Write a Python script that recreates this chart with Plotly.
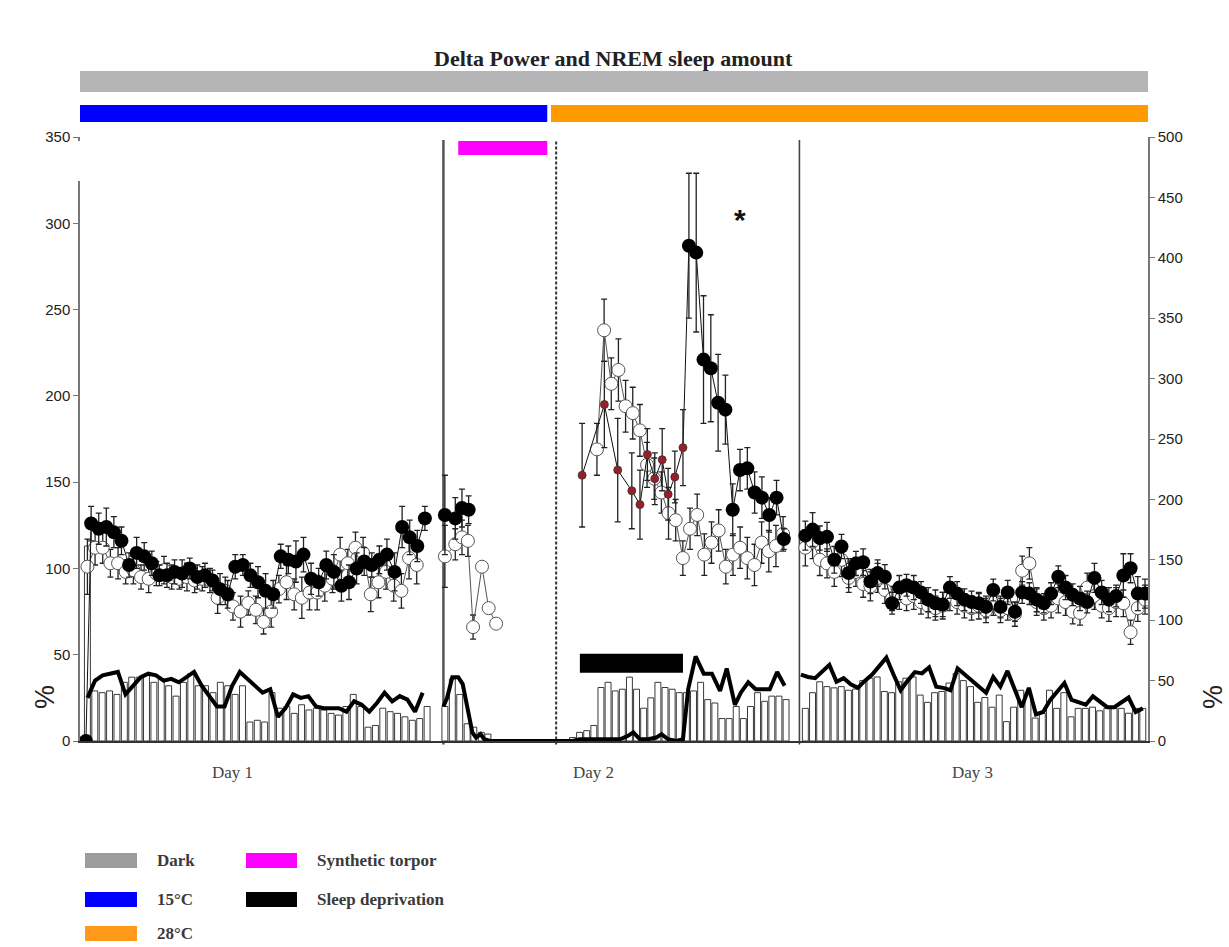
import numpy as np
import plotly.graph_objects as go

FIG_W, FIG_H = 1229, 947
MARGIN = dict(l=80, r=81, t=137, b=206)

# ---------------- Day 1 (left axis, %) ----------------
d1_start_t, d1_start_v = -0.1, 0            # first recording bin of the filled group
d1_filled_t = np.linspace(0.25, 22.75, 45)
d1_filled = [126, 123, 124, 121, 116, 102, 109, 107, 103, 96, 96, 98, 97, 100, 95,
             96, 93, 88, 85, 101, 102, 96, 92, 87, 85, 107, 105, 104, 108, 94,
             92, 102, 98, 90, 92, 100, 104, 102, 105, 108, 98, 124, 118, 113, 129]
d1_filled_err = [10, 9, 11, 9, 8, 7, 9, 8, 7, 6, 7, 7, 8, 6, 7, 7, 6, 9, 8, 7, 6, 7, 9,
                 10, 8, 7, 8, 12, 10, 9, 8, 8, 10, 9, 10, 9, 8, 7, 8, 9, 11, 12, 10, 9, 7]

d1_open_t = np.linspace(0.0, 22.2, 44)
d1_open = [101, 112, 112, 103, 103, 98, 99, 95, 94, 97, 99, 95, 94, 95, 93, 94, 93,
           83, 87, 78, 75, 80, 76, 69, 75, 88, 92, 85, 83, 86, 86, 90, 94, 108, 103,
           112, 109, 85, 92, 98, 90, 87, 106, 102]
d1_open_err = [16, 10, 9, 8, 9, 7, 8, 7, 8, 7, 8, 7, 6, 8, 7, 7, 7, 9, 8, 8, 9, 7,
               8, 7, 9, 8, 10, 9, 12, 10, 10, 9, 8, 10, 8, 9, 9, 10, 9, 10, 9, 10, 12, 11]

d1_nrem_t = np.linspace(0.0, 22.6, 45)
d1_nrem = [25, 35, 38, 39, 40, 27, 32, 37, 39, 38, 35, 36, 34, 37, 40, 32, 26, 20,
           20, 32, 40, 36, 32, 28, 30, 14, 19, 27, 25, 26, 20, 19, 19, 19, 17, 23,
           21, 17, 22, 28, 23, 26, 24, 17, 28]

d1_bar_t = np.linspace(0.0, 22.9, 47)
d1_bar = [113, 29, 28, 29, 27, 34, 37, 37, 38, 34, 36, 32, 26, 34, 39, 32, 32, 28,
          34, 32, 27, 32, 11, 12, 11, 28, 19, 20, 16, 21, 18, 19, 18, 16, 15, 20,
          27, 20, 8, 9, 19, 17, 16, 14, 12, 13, 20]

# ---------------- Synthetic torpor (left axis) ----------------
tp_filled_t = [24.1, 24.8, 25.25, 25.7]
tp_filled = [131, 129, 135, 134]
tp_filled_err = [23, 12, 11, 8]

tp_open_t = [24.1, 24.8, 25.25, 25.65, 26.0, 26.6, 27.05, 27.55]
tp_open = [107, 114, 118, 116, 66, 101, 77, 68]
tp_open_err = [18, 9, 10, 9, 7, 0, 0, 0]

tp_bar_t = [24.1, 24.6, 25.1, 25.6, 26.05, 26.55, 27.0]
tp_bar = [20, 36, 27, 10, 8, 5, 4]

# NREM amount from torpor through the end of Day 2
tpd2_nrem_t = [24.0, 24.25, 24.6, 25.0, 25.3, 25.65, 25.95, 26.2, 26.5, 26.75, 27.15,
               29.2, 31.6, 32.7, 33.2, 33.75, 34.3, 34.85, 35.4, 35.9, 36.45, 36.8,
               37.25, 37.8, 38.35, 38.7, 39.15, 39.7, 40.15, 40.5, 41.0, 41.55, 42.1,
               42.65, 43.1, 43.65, 44.05, 44.55, 45.05, 45.6, 46.0, 46.5, 47.0]
tpd2_nrem = [20, 25, 37, 37, 33, 18, 5, 2, 4, 1, 0,
             0, 0, 0, 1, 1, 1, 1, 1, 1, 3, 5,
             1, 1, 2, 4, 1, 0, 1, 30, 49, 39, 39,
             29, 42, 21, 28, 34, 30, 30, 30, 40, 32]

# ---------------- Day 2 (left axis) ----------------
d2_bar_t = np.linspace(32.7, 47.1, 31)
d2_bar = [2, 5, 6, 9, 31, 34, 29, 30, 37, 30, 19, 25, 34, 31, 30, 28, 28, 29, 34,
          24, 22, 13, 13, 20, 13, 20, 28, 23, 26, 26, 24]

d2_open_t = np.linspace(34.35, 46.9, 27)
d2_open = [169, 238, 207, 215, 194, 190, 180, 160, 152, 144, 132, 128, 106, 123,
           131, 108, 115, 122, 101, 108, 112, 106, 102, 115, 110, 113, 120]
d2_open_err = [15, 18, 15, 18, 15, 15, 15, 13, 12, 12, 15, 12, 10, 12, 12, 12, 12,
               12, 10, 12, 12, 12, 12, 12, 12, 12, 10]

# during sleep deprivation
sd_t = [33.35, 34.85, 35.75, 36.7, 37.25, 37.75, 38.25, 38.75, 39.15, 39.6, 40.15]
sd_val = [154, 195, 157, 145, 137, 166, 152, 163, 143, 153, 170]
sd_err = [30, 25, 30, 22, 20, 15, 15, 18, 15, 15, 22]

# recovery after sleep deprivation
rec_t = np.linspace(40.55, 46.95, 14)
rec_val = [287, 283, 221, 216, 196, 192, 134, 157, 158, 144, 141, 131, 141, 117]
rec_err = [42, 46, 37, 31, 28, 20, 15, 12, 12, 12, 12, 10, 10, 6]

# ---------------- Day 3 (right axis, %) ----------------
d3_t = np.linspace(48.4, 71.3, 48)
d3_filled = [170, 175, 168, 169, 150, 161, 139, 147, 148, 132, 139, 136, 114, 127,
             129, 127, 123, 117, 114, 113, 127, 122, 117, 115, 114, 111, 125, 111,
             123, 107, 123, 122, 117, 114, 122, 136, 127, 121, 118, 115, 135, 123,
             117, 120, 137, 143, 122, 122]
d3_filled_err = [12, 14, 10, 12, 11, 10, 12, 10, 11, 10, 11, 10, 9, 10, 9, 10, 9, 10,
                 11, 10, 9, 10, 9, 9, 8, 9, 9, 9, 10, 8, 9, 9, 10, 8, 9, 9, 10, 9,
                 10, 9, 12, 10, 10, 9, 18, 12, 14, 12]
d3_open = [160, 165, 150, 147, 140, 150, 135, 140, 130, 128, 135, 125, 118, 120,
           118, 120, 115, 112, 110, 112, 120, 115, 112, 110, 112, 108, 115, 108,
           110, 105, 141, 147, 115, 110, 112, 118, 115, 107, 106, 127, 120, 112,
           110, 115, 114, 90, 110, 117]
d3_open_err = [15, 14, 13, 12, 12, 14, 12, 12, 11, 12, 12, 11, 10, 11, 10, 11, 10,
               10, 10, 11, 12, 10, 10, 10, 11, 10, 11, 10, 10, 10, 12, 13, 11, 10,
               10, 12, 11, 10, 10, 12, 11, 10, 11, 12, 11, 10, 11, 12]

d3_nrem_t = np.linspace(48.1, 71.15, 49)
d3_nrem = [55, 53, 52, 58, 63, 49, 52, 47, 44, 50, 55, 62, 69, 55, 42, 50, 57, 56,
           61, 45, 44, 42, 60, 55, 50, 45, 40, 53, 45, 58, 43, 28, 44, 22, 24, 34,
           41, 48, 34, 32, 30, 37, 32, 28, 28, 32, 36, 24, 27]

d3_bar_t = np.linspace(48.4, 71.15, 48)
d3_bar = [27, 40, 49, 45, 44, 45, 42, 43, 50, 52, 53, 41, 40, 49, 52, 53, 38, 32,
          40, 41, 48, 56, 50, 45, 32, 36, 28, 38, 16, 28, 42, 40, 19, 23, 42, 27,
          40, 20, 27, 27, 28, 25, 27, 27, 27, 23, 27, 27]

# ---------------- protocol periods (hours) ----------------
X_RANGE = [-0.5, 71.5]
DAY1_END, TORPOR_END, DAY2_END = 24.0, 31.6, 48.0
COLD_END, WARM_START = 31.0, 31.25
TORPOR_BAR = (25.0, 31.0)
SD_BAR = (33.2, 40.15)
day_labels = ["Day 1", "Day 2", "Day 3"]
day_label_t = [9.8, 34.1, 59.7]

# ---------------- helpers ----------------
PLOT_W = FIG_W - MARGIN["l"] - MARGIN["r"]
PLOT_H = FIG_H - MARGIN["t"] - MARGIN["b"]


def paper_x(px):
    return (px - MARGIN["l"]) / PLOT_W


def paper_y(py):
    return (FIG_H - MARGIN["b"] - py) / PLOT_H


fig = go.Figure()


def add_bars(t, v, yaxis="y"):
    fig.add_trace(go.Bar(x=t, y=v, width=0.4, yaxis=yaxis,
                         marker=dict(color="white", line=dict(color="#3a3a3a", width=1)),
                         showlegend=False, hoverinfo="skip"))


def add_nrem(t, v, yaxis="y"):
    fig.add_trace(go.Scatter(x=t, y=v, mode="lines", yaxis=yaxis,
                             line=dict(color="black", width=4),
                             showlegend=False, hoverinfo="skip"))


def add_points(t, v, err, kind, yaxis="y", mode="lines+markers"):
    if kind == "open":
        marker = dict(size=13, color="white", opacity=1,
                      line=dict(color="#555555", width=1))
        line = dict(color="#555555", width=1)
    elif kind == "sd":
        marker = dict(size=8, color="#9a1d28", opacity=1,
                      line=dict(color="#333333", width=0.8))
        line = dict(color="#111111", width=1)
    else:
        marker = dict(size=14, color="black", opacity=1,
                      line=dict(color="black", width=0))
        line = dict(color="#111111", width=1)
    fig.add_trace(go.Scatter(x=t, y=v, mode=mode, yaxis=yaxis,
                             marker=marker, line=line,
                             error_y=dict(type="data", array=err, color="#222222",
                                          thickness=1.3, width=3),
                             showlegend=False, hoverinfo="skip"))


# bars (NREM sleep amount)
add_bars(d1_bar_t, d1_bar)
add_bars(tp_bar_t, tp_bar)
add_bars(d2_bar_t, d2_bar)
add_bars(d3_bar_t, d3_bar, "y2")

# NREM lines
add_nrem(d1_nrem_t, d1_nrem)
add_nrem(tpd2_nrem_t, tpd2_nrem)
add_nrem(d3_nrem_t, d3_nrem, "y2")

# delta power, open symbols
add_points(d1_open_t, d1_open, d1_open_err, "open")
add_points(tp_open_t, tp_open, tp_open_err, "open")
add_points(d2_open_t, d2_open, d2_open_err, "open")
add_points(d3_t, d3_open, d3_open_err, "open", "y2")

# delta power, filled symbols
add_points(np.concatenate([[d1_start_t], d1_filled_t]),
           [d1_start_v] + d1_filled, [0] + d1_filled_err, "filled")
add_points(tp_filled_t, tp_filled, tp_filled_err, "filled")
add_points(d3_t, d3_filled, d3_filled_err, "filled", "y2")

# Day 2: sleep deprivation (red) followed by recovery (black), one connecting line
fig.add_trace(go.Scatter(x=list(sd_t) + list(rec_t), y=sd_val + rec_val, mode="lines",
                         line=dict(color="#111111", width=1),
                         showlegend=False, hoverinfo="skip"))
add_points(sd_t, sd_val, sd_err, "sd", mode="markers")
add_points(rec_t, rec_val, rec_err, "filled", mode="markers")

shapes = []
# day / torpor dividers
shapes.append(dict(type="line", xref="x", yref="paper", x0=DAY1_END, x1=DAY1_END,
                   y0=-0.006, y1=0.995, line=dict(color="#555555", width=2.5), layer="below"))
shapes.append(dict(type="line", xref="x", yref="paper", x0=TORPOR_END, x1=TORPOR_END,
                   y0=-0.006, y1=0.995, line=dict(color="#333333", width=2, dash="3px,2px"),
                   layer="below"))
shapes.append(dict(type="line", xref="x", yref="paper", x0=DAY2_END, x1=DAY2_END,
                   y0=-0.006, y1=0.995, line=dict(color="#444444", width=1.6), layer="below"))
# light phase / temperature bars
shapes.append(dict(type="rect", xref="x", yref="paper", x0=X_RANGE[0], x1=X_RANGE[1],
                   y0=paper_y(92), y1=paper_y(71), fillcolor="#b5b5b7", line=dict(width=0)))
shapes.append(dict(type="rect", xref="x", yref="paper", x0=X_RANGE[0], x1=COLD_END,
                   y0=paper_y(122), y1=paper_y(105), fillcolor="#0000ff", line=dict(width=0)))
shapes.append(dict(type="rect", xref="x", yref="paper", x0=WARM_START, x1=X_RANGE[1],
                   y0=paper_y(122), y1=paper_y(105), fillcolor="#ff9a00", line=dict(width=0)))
# synthetic torpor and sleep deprivation
shapes.append(dict(type="rect", xref="x", yref="paper", x0=TORPOR_BAR[0], x1=TORPOR_BAR[1],
                   y0=paper_y(155), y1=paper_y(141), fillcolor="#ff00ff", line=dict(width=0)))
shapes.append(dict(type="rect", xref="x", yref="y", x0=SD_BAR[0], x1=SD_BAR[1],
                   y0=39.5, y1=50.5, fillcolor="black", line=dict(width=0)))
# gap in the left axis line below the top tick
shapes.append(dict(type="rect", xref="paper", yref="paper", x0=paper_x(74), x1=paper_x(86),
                   y0=paper_y(181), y1=paper_y(141), fillcolor="white", line=dict(width=0)))

# legend swatches
legend_items = [
    ("Dark", "#9c9c9c", 85, 137, 853, 868),
    ("15°C", "#0000ff", 85, 137, 892, 907),
    ("28°C", "#ff9a1a", 85, 137, 926, 941),
    ("Synthetic torpor", "#ff00ff", 246, 297, 853, 868),
    ("Sleep deprivation", "black", 246, 297, 892, 907),
]
annotations = []
for label, color, x0, x1, y0, y1 in legend_items:
    shapes.append(dict(type="rect", xref="paper", yref="paper",
                       x0=paper_x(x0), x1=paper_x(x1), y0=paper_y(y1), y1=paper_y(y0),
                       fillcolor=color, line=dict(width=0)))
    annotations.append(dict(xref="paper", yref="paper", x=paper_x(x1 + 18),
                            y=paper_y((y0 + y1) / 2), text="<b>%s</b>" % label,
                            showarrow=False, xanchor="left", yanchor="middle",
                            font=dict(family="Liberation Serif", size=17, color="#3a3a3a")))

# title
annotations.append(dict(xref="paper", yref="paper", x=paper_x(613), y=paper_y(59),
                        text="<b>Delta Power and NREM sleep amount</b>", showarrow=False,
                        xanchor="center", yanchor="middle",
                        font=dict(family="Liberation Serif", size=22, color="#222222")))
# day labels
for lab, t in zip(day_labels, day_label_t):
    annotations.append(dict(xref="x", yref="paper", x=t, y=paper_y(772), text=lab,
                            showarrow=False, xanchor="center", yanchor="middle",
                            font=dict(family="Liberation Serif", size=17, color="#444444")))
# axis titles
for px in (45, 1213):
    annotations.append(dict(xref="paper", yref="paper", x=paper_x(px), y=paper_y(697),
                            text="%", textangle=-90, showarrow=False,
                            xanchor="center", yanchor="middle",
                            font=dict(family="Liberation Sans", size=27, color="#222222")))
# significance mark
annotations.append(dict(xref="x", yref="y", x=44.0, y=302, text="<b>*</b>",
                        showarrow=False, xanchor="center", yanchor="middle",
                        font=dict(family="Liberation Sans", size=30, color="#111111")))

tick_font = dict(family="Liberation Sans", size=15, color="#222222")
fig.update_layout(
    width=FIG_W, height=FIG_H, margin=MARGIN,
    paper_bgcolor="white", plot_bgcolor="white",
    barmode="overlay", showlegend=False,
    shapes=shapes, annotations=annotations,
    xaxis=dict(range=X_RANGE, showline=True, linecolor="#333333", linewidth=1.5,
               showticklabels=False, ticks="", showgrid=False, zeroline=False),
    yaxis=dict(range=[0, 350], dtick=50, ticks="outside", ticklen=5, tickcolor="#777777",
               showline=True, linecolor="#777777", linewidth=1.5, tickfont=tick_font,
               showgrid=False, zeroline=False),
    yaxis2=dict(range=[0, 500], dtick=50, overlaying="y", side="right", ticks="outside",
                ticklen=5, tickcolor="#777777", showline=True, linecolor="#777777",
                linewidth=1.5, tickfont=tick_font, showgrid=False, zeroline=False),
)

fig.write_html("out.html")
